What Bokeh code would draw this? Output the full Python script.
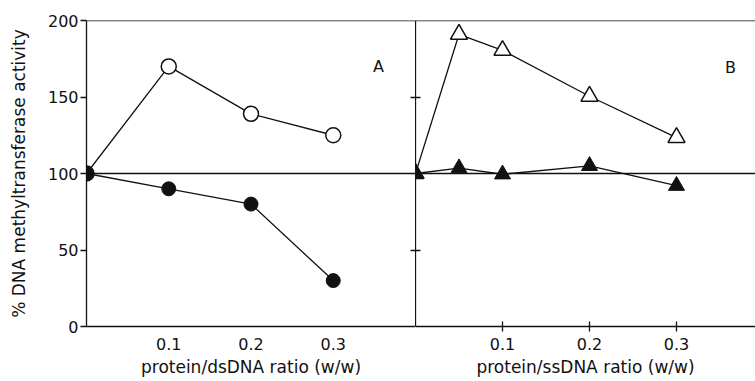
from bokeh.plotting import figure
from bokeh.models import Range1d, FixedTicker, Span, Label, LinearAxis
from bokeh.layouts import row
from bokeh.embed import file_html
from bokeh.resources import INLINE

# ---- data ----
ds_ratio = [0, 0.1, 0.2, 0.3]
ds_open = [100, 170, 139, 125]
ds_filled = [100, 90, 80, 30]
ss_ratio = [0, 0.05, 0.1, 0.2, 0.3]
ss_open = [100, 191, 180.5, 150.5, 123.5]
ss_filled = [100, 103.5, 99.5, 105, 92]
y_ticks = [0, 50, 100, 150, 200]
x_ticks = [0.1, 0.2, 0.3]
b_y_ticks = [50, 150]
x_label_a = "protein/dsDNA ratio (w/w)"
x_label_b = "protein/ssDNA ratio (w/w)"
y_label = "% DNA methyltransferase activity"

FONT = "DejaVu Sans"
INK = "#111111"
TICK_FS = "16px"
LAB_FS = "17px"
H = 380


def style_axis(ax):
    ax.axis_line_color = INK
    ax.axis_line_width = 1.3
    ax.major_tick_line_color = INK
    ax.major_tick_line_width = 1.3
    ax.minor_tick_line_color = None
    ax.major_label_text_font = FONT
    ax.major_label_text_font_size = TICK_FS
    ax.major_label_text_color = INK
    ax.axis_label_text_font = FONT
    ax.axis_label_text_font_size = LAB_FS
    ax.axis_label_text_font_style = "normal"
    ax.axis_label_text_color = INK


def style_common(p):
    p.xgrid.visible = False
    p.ygrid.visible = False
    p.outline_line_color = None
    p.background_fill_color = "white"
    p.border_fill_color = "white"
    p.add_layout(Span(location=100, dimension="width", line_color=INK, line_width=1.3))
    p.add_layout(Span(location=200, dimension="width", line_color=INK, line_width=1.3))


# ---- panel A ----
pa = figure(width=415, height=H, x_range=Range1d(0, 0.4), y_range=Range1d(0, 200),
            output_backend="svg", toolbar_location=None,
            min_border_left=86, min_border_right=0, min_border_top=20, min_border_bottom=H - 326)
style_common(pa)
for ax in pa.axis:
    style_axis(ax)
pa.xaxis.ticker = FixedTicker(ticks=x_ticks)
pa.xaxis.major_tick_out = 0
pa.xaxis.major_tick_in = 0
pa.xaxis.major_label_standoff = 11
pa.xaxis.axis_label = x_label_a
pa.xaxis.axis_label_standoff = 4
pa.yaxis.ticker = FixedTicker(ticks=y_ticks)
pa.yaxis.major_tick_out = 6
pa.yaxis.major_tick_in = 0
pa.yaxis.major_label_standoff = 2
pa.yaxis.axis_label = y_label
pa.yaxis.axis_label_standoff = 16

# divider ticks reaching into panel A (no labels)
ra = LinearAxis(ticker=FixedTicker(ticks=b_y_ticks))
style_axis(ra)
ra.major_tick_in = 5
ra.major_tick_out = 0
ra.major_label_text_color = None
ra.axis_line_color = None
pa.add_layout(ra, "right")

pa.line(ds_ratio, ds_open, line_color=INK, line_width=1.3)
pa.line(ds_ratio, ds_filled, line_color=INK, line_width=1.3)
pa.scatter(ds_ratio, ds_open, marker="circle", size=15, fill_color="white", line_color=INK, line_width=1.5)
pa.scatter(ds_ratio, ds_filled, marker="circle", size=14, fill_color=INK, line_color=INK, line_width=1)
pa.add_layout(Label(x=0.355, y=170, text="A", text_font=FONT, text_font_size="16px",
                    text_color=INK, text_align="center", text_baseline="middle"))

# ---- panel B ----
pb = figure(width=340, height=H, x_range=Range1d(0, 0.3908), y_range=Range1d(0, 200),
            output_backend="svg", toolbar_location=None,
            min_border_left=0, min_border_right=0, min_border_top=20, min_border_bottom=H - 326)
style_common(pb)
for ax in pb.axis:
    style_axis(ax)
pb.xaxis.ticker = FixedTicker(ticks=x_ticks)
pb.xaxis.major_tick_out = 5
pb.xaxis.major_tick_in = 5
pb.xaxis.major_label_standoff = 6
pb.xaxis.axis_label = x_label_b
pb.xaxis.axis_label_standoff = 4
pb.yaxis.ticker = FixedTicker(ticks=b_y_ticks)
pb.yaxis.major_tick_in = 5
pb.yaxis.major_tick_out = 0
pb.yaxis.major_label_text_color = None
pb.yaxis.major_label_standoff = 0

pb.line(ss_ratio, ss_open, line_color=INK, line_width=1.3)
pb.line(ss_ratio, ss_filled, line_color=INK, line_width=1.3)
pb.scatter(ss_ratio, ss_open, marker="triangle", size=17, fill_color="white", line_color=INK, line_width=1.5)
pb.scatter(ss_ratio, ss_filled, marker="triangle", size=16, fill_color=INK, line_color=INK, line_width=1)
pb.add_layout(Label(x=0.362, y=169, text="B", text_font=FONT, text_font_size="16px",
                    text_color=INK, text_align="center", text_baseline="middle"))

layout = row(pa, pb)
open("out.html", "w").write(file_html(layout, INLINE))
